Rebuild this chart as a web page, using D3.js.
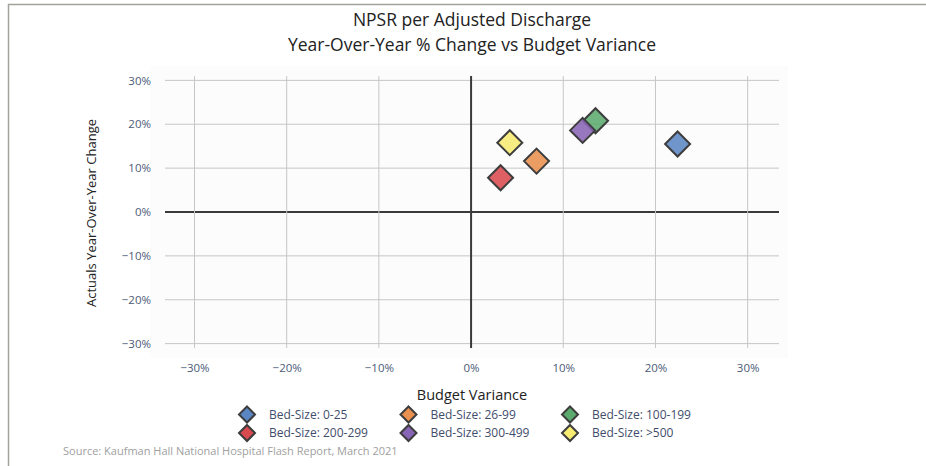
<!DOCTYPE html>
<html>
<head>
<meta charset="utf-8">
<script src="https://cdn.jsdelivr.net/npm/d3@7"></script>
<style>
  html, body { margin: 0; padding: 0; background: #fff; }
  svg { display: block; font-family: "Open Sans", "Noto Sans", sans-serif; }
</style>
</head>
<body>
<svg id="chart" width="926" height="466"></svg>
<script>
// Data
const groups = ["Bed-Size: 0-25", "Bed-Size: 26-99", "Bed-Size: 100-199",
                "Bed-Size: 200-299", "Bed-Size: 300-499", "Bed-Size: >500"];
const budgetVariance = [0.224, 0.071, 0.135, 0.032, 0.121, 0.042];
const yoyChange = [0.155, 0.116, 0.208, 0.078, 0.186, 0.158];
const colors = ["#5b86c4", "#e8904f", "#5caa6d", "#d94a50", "#8965b5", "#f7eb72"];
const ticks = [-0.3, -0.2, -0.1, 0, 0.1, 0.2, 0.3];

const svg = d3.select("#chart");

// frame lines (top + left)
svg.append("line").attr("x1", 8).attr("x2", 926).attr("y1", 4.5).attr("y2", 4.5)
    .style("stroke", "#a3a39c").style("stroke-width", 1.5);
svg.append("line").attr("x1", 8.5).attr("x2", 8.5).attr("y1", 4).attr("y2", 466)
    .style("stroke", "#a3a39c").style("stroke-width", 1.5);

const plot = { left: 165, right: 779, top: 76, bottom: 348 };

const x = d3.scaleLinear().domain([-0.332, 0.334]).range([plot.left, plot.right]);
const y = d3.scaleLinear().domain([-0.31, 0.31]).range([plot.bottom, plot.top]);
const pct = d3.format(".0%");

// faint plot background
svg.append("rect")
    .attr("x", 150).attr("y", 66).attr("width", 638).attr("height", 292)
    .style("fill", "#fcfcfc");

// grid
svg.append("g").selectAll("line").data(ticks).enter().append("line")
    .attr("x1", plot.left).attr("x2", plot.right)
    .attr("y1", d => y(d)).attr("y2", d => y(d))
    .style("stroke", d => d === 0 ? "#3a3a3a" : "#c6c6c6")
    .style("stroke-width", d => d === 0 ? 2 : 1);

svg.append("g").selectAll("line").data(ticks).enter().append("line")
    .attr("x1", d => x(d)).attr("x2", d => x(d))
    .attr("y1", plot.top).attr("y2", plot.bottom)
    .style("stroke", d => d === 0 ? "#3a3a3a" : "#c6c6c6")
    .style("stroke-width", d => d === 0 ? 2 : 1);

// axes (labels only)
const xAxis = svg.append("g")
    .attr("transform", `translate(0,${plot.bottom + 10})`)
    .call(d3.axisBottom(x).tickValues(ticks).tickFormat(pct).tickSize(0).tickPadding(6));
const yAxis = svg.append("g")
    .attr("transform", `translate(${plot.left - 14},0)`)
    .call(d3.axisLeft(y).tickValues(ticks).tickFormat(pct).tickSize(0).tickPadding(0));
[xAxis, yAxis].forEach(a => {
    a.select(".domain").remove();
    a.selectAll("text")
        .style("font-family", "'Open Sans', sans-serif")
        .style("font-size", "11.5px")
        .style("fill", "#4b5b78");
});

// titles
svg.append("text").attr("x", 472).attr("y", 26).attr("text-anchor", "middle")
    .style("font-size", "17.5px").style("fill", "#222").text("NPSR per Adjusted Discharge");
svg.append("text").attr("x", 472).attr("y", 51).attr("text-anchor", "middle")
    .style("font-size", "17.5px").style("fill", "#222").text("Year-Over-Year % Change vs Budget Variance");

svg.append("text").attr("x", 472).attr("y", 400).attr("text-anchor", "middle")
    .style("font-size", "14.5px").style("fill", "#222").text("Budget Variance");

svg.append("text")
    .attr("transform", "translate(96,213) rotate(-90)")
    .attr("text-anchor", "middle")
    .style("font-size", "13px").style("fill", "#222")
    .text("Actuals Year-Over-Year Change");

// diamonds
const diamond = r => `M0,${-r}L${r},0L0,${r}L${-r},0Z`;

svg.append("g").selectAll("path")
    .data(groups.map((g, i) => ({ g, bx: budgetVariance[i], yy: yoyChange[i], c: colors[i] })))
    .enter().append("path")
    .attr("transform", d => `translate(${x(d.bx)},${y(d.yy)})`)
    .attr("d", diamond(12.5))
    .style("fill", d => d.c)
    .style("fill-opacity", 0.88)
    .style("stroke", "#3d3d3d")
    .style("stroke-width", 2);

// legend
const legend = svg.append("g").selectAll("g")
    .data(groups).enter().append("g")
    .attr("transform", (d, i) => `translate(${247 + (i % 3) * 161.5},${414.5 + Math.floor(i / 3) * 18.5})`);
legend.append("path")
    .attr("d", diamond(8))
    .style("fill", (d, i) => colors[i])
    .style("stroke", "#3d3d3d")
    .style("stroke-width", 2);
legend.append("text")
    .attr("x", 22).attr("dy", "0.35em")
    .style("font-size", "12px").style("fill", "#3f4d6b")
    .text(d => d);

// source
svg.append("text").attr("x", 63).attr("y", 455)
    .style("font-size", "11px").style("fill", "#a0a0a0")
    .text("Source: Kaufman Hall National Hospital Flash Report, March 2021");
</script>
</body>
</html>
